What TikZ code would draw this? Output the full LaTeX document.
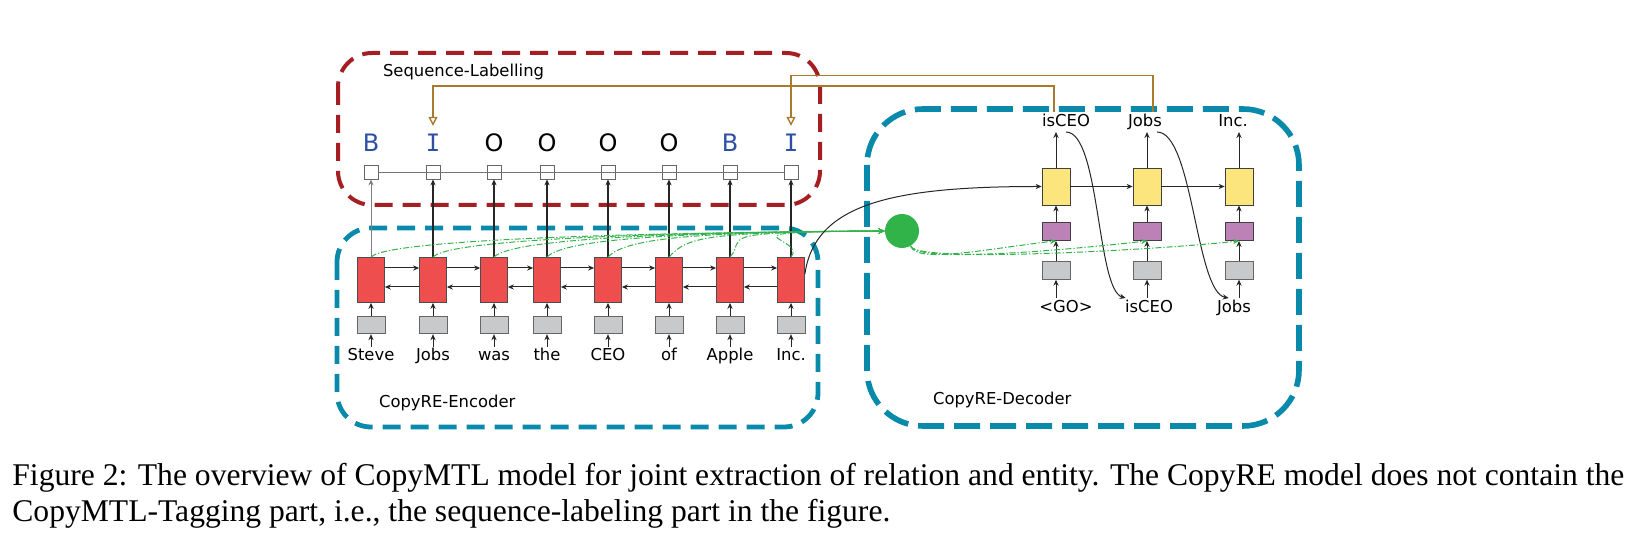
\documentclass[tikz,border=0pt]{standalone}
\usepackage{fontspec}
\setmainfont{Liberation Serif}
\newfontfamily\diagfont{DejaVu Sans}
\newfontfamily\tagmono{DejaVu Sans Mono}
\usetikzlibrary{positioning,arrows.meta}

\definecolor{seqred}{HTML}{A51E22}
\definecolor{copyblue}{HTML}{0A8AAB}
\definecolor{rnnred}{HTML}{EF4E4F}
\definecolor{decyellow}{HTML}{FDE57E}
\definecolor{attpurple}{HTML}{BC82B7}
\definecolor{embgray}{HTML}{C8C9CB}
\definecolor{copygreen}{HTML}{32B34A}
\definecolor{linkbrown}{HTML}{A97A2D}
\definecolor{tagblue}{HTML}{2C4FA3}

\begin{document}
\begin{tikzpicture}[
    x=0.5pt, y=-0.5pt,
    font=\diagfont\fontsize{8.2}{10}\selectfont,
    encbox/.style={draw=black!70, fill=rnnred, minimum width=13.5pt, minimum height=22.5pt, inner sep=0pt},
    embbox/.style={draw=black!60, fill=embgray, minimum width=14pt, minimum height=8.8pt, inner sep=0pt},
    tagbox/.style={draw=black!60, fill=white, minimum size=7pt, inner sep=0pt},
    decbox/.style={draw=black!75, fill=decyellow, minimum width=14pt, minimum height=18.5pt, inner sep=0pt},
    attbox/.style={draw=black!75, fill=attpurple, minimum width=14pt, minimum height=9pt, inner sep=0pt},
    tag/.style={font=\diagfont\fontsize{12}{14}\selectfont, inner sep=4pt},
    word/.style={text height=6pt, text depth=1.6pt, inner sep=1pt},
    flow/.style={-{Stealth[length=3pt,width=2.6pt]}, black!85, line width=0.5pt},
    uplink/.style={flow, line width=1pt},
    attend/.style={-{Stealth[length=3pt,width=2.6pt]}, copygreen, line width=0.5pt,
        dash pattern=on 3pt off 1pt on 0.6pt off 1pt},
    copylink/.style={-{Triangle[open,length=4.5pt,width=4.5pt]}, linkbrown, line width=0.7pt},
    region/.style={line width=2pt, rounded corners=17pt, dash pattern=on 9pt off 5pt}
]
\useasboundingbox[fill=white] (0,0) rectangle (1639,549);

% Dashed regions
\draw[region, seqred] (338,53) rectangle (820,205);
\draw[region, copyblue, line width=2.4pt] (337,228) rectangle (818,427);
\draw[region, copyblue, line width=2.8pt, rounded corners=28pt, dash pattern=on 13pt off 5pt] (867,109) rectangle (1299,426);

% Region labels
\node[anchor=west] (seqlabel) at (376,72) {Sequence-Labelling};
\node[anchor=west] (enclabel) at (372,403) {CopyRE-Encoder};
\node[anchor=west] (declabel) at (926,400) {CopyRE-Decoder};

% Encoder and tagging layer
\foreach \x/\tg/\col [count=\i] in {371/B/tagblue, 433/{\tagmono I}/tagblue, 494/O/black, 547/O/black,
        608/O/black, 669/O/black, 730/B/tagblue, 791/{\tagmono I}/tagblue} {
    \node[encbox] (h\i) at (\x,280) {};
    \node[embbox] (e\i) at (\x,325) {};
    \node[tagbox] (t\i) at (\x,172) {};
    \node[tag, text=\col] (l\i) at (\x,143) {\tg};
    \draw[flow] (e\i) -- (h\i);
}

% Input words
\foreach \w [count=\i] in {Steve,Jobs,was,the,CEO,of,Apple,Inc.} {
    \node[word, below=6.2pt of e\i] (w\i) {\w};
    \draw[flow] (w\i) -- (e\i);
}

% Bidirectional connections
\foreach \i [count=\j from 2] in {1,...,7} {
    \draw[flow] ([yshift=6pt]h\i.east) -- ([yshift=6pt]h\j.west);
    \draw[flow] ([yshift=-3.5pt]h\j.west) -- ([yshift=-3.5pt]h\i.east);
}

% Tagging chain
\draw[black!55] (t1) \foreach \i in {2,...,8} {-- (t\i)};
\draw[flow, black!50] (h1) -- (t1);
\foreach \i in {2,...,8} {
    \draw[uplink] (h\i) -- (t\i);
}

% Decoder
\foreach \x [count=\i] in {1056,1147,1239} {
    \node[decbox] (s\i) at (\x,186.5) {};
    \node[attbox] (a\i) at (\x,231.5) {};
    \node[embbox] (d\i) at (\x,270.5) {};
    \draw[flow] (d\i) -- (a\i);
    \draw[flow] (a\i) -- (s\i);
}
\draw[flow] (s1) -- (s2);
\draw[flow] (s2) -- (s3);

% Decoder outputs and inputs
\node[word] (o1) at (1066,122) {isCEO};
\node[word] (o2) at (1145,122) {Jobs};
\node[word] (o3) at (1233,122) {Inc.};
\node[word] (i1) at (1066,308) {<GO>};
\node[word] (i2) at (1149,308) {isCEO};
\node[word] (i3) at (1234,308) {Jobs};
\foreach \i in {1,2,3} {
    \draw[flow] (s\i.north) -- (s\i.north |- o\i.south);
    \draw[flow] (d\i.south |- i\i.north) -- (d\i.south);
}

% Copied outputs fed back
\draw[flow] (o1.south) .. controls +(34,0) and +(-29,-8) .. ([xshift=1.5pt]i2.north west);
\draw[flow] ([xshift=6pt]o2.south) .. controls +(36,0) and +(-33,-6) .. ([xshift=7pt]i3.north west);

% Copy node and attention
\node[circle, fill=copygreen, minimum size=17pt, inner sep=0pt] (copy) at (902,231) {};
\foreach \i in {1,...,8} {
    \draw[attend] (h\i.north) .. controls +(18,-20) and +(-180,1) .. (copy.west);
}
\foreach \i in {1,2,3} {
    \draw[attend] (copy.-60) .. controls +(6,18) and +(-70,8) .. (a\i.south);
}

% Encoder state to decoder
\draw[flow] ([yshift=3pt]h8.east) .. controls +(10,-70) and +(-150,0) .. (s1.west);

% Entity links to tags
\draw[copylink] ([xshift=-6pt]o1.north) -- ++(0,-26) -| (l2.north);
\draw[copylink] ([xshift=4pt]o2.north) -- ++(0,-36.5) -| (l8.north);

% Caption
\node[anchor=base west, inner sep=0pt, font=\rmfamily\fontsize{15.8}{18}\selectfont] (cap1) at (12,486)
    {Figure 2: The overview of CopyMTL model for joint extraction of relation and entity. The CopyRE model does not contain the};
\node[anchor=base west, inner sep=0pt, font=\rmfamily\fontsize{15.8}{18}\selectfont] (cap2) at (12,522)
    {CopyMTL-Tagging part, i.e., the sequence-labeling part in the figure.};

\end{tikzpicture}
\end{document}
